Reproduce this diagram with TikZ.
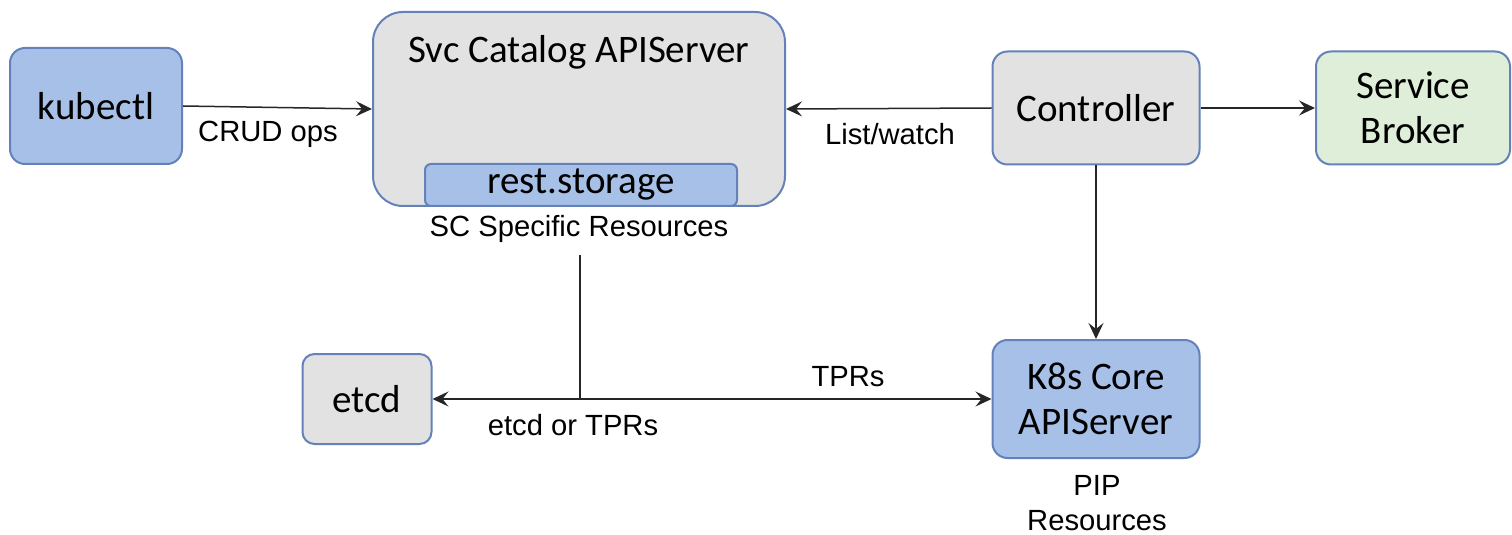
\documentclass[tikz,border=0pt]{standalone}
\usepackage{fontspec}
\setmainfont{Carlito}
\newfontfamily\labfont{Liberation Sans}
\usetikzlibrary{arrows.meta}
\definecolor{bluefill}{RGB}{167,192,231}
\definecolor{grayfill}{RGB}{226,226,226}
\definecolor{greenfill}{RGB}{222,238,216}
\definecolor{edgeblue}{RGB}{100,130,185}
\tikzset{
  box/.style={draw=edgeblue, line width=1pt, rounded corners=7.5pt, font=\fontsize{19.5}{22.5}\selectfont, align=center, inner sep=0pt},
  bluebox/.style={box, fill=bluefill},
  graybox/.style={box, fill=grayfill},
  greenbox/.style={box, fill=greenfill},
  lab/.style={font=\labfont\fontsize{14.6}{17.5}\selectfont, align=center, inner sep=0pt},
  arr/.style={-{Stealth[length=8pt,width=7.5pt,inset=3pt]}, line width=0.75pt, draw=black!85},
  conn/.style={line width=0.75pt, draw=black!85}
}
\begin{document}
\begin{tikzpicture}[x=0.5pt,y=-0.5pt]
\useasboundingbox (0,0) rectangle (1512,535);
\node[bluebox, minimum width=86pt, minimum height=58pt] (kubectl) at (96,106) {kubectl};
\node[graybox, rounded corners=15pt, minimum width=206pt, minimum height=97pt] (svc) at (579,109) {};
\node[font=\fontsize{19.5}{22.5}\selectfont, inner sep=0pt] (svctitle) at (579,52) {Svc Catalog APIServer};
\node[bluebox, rounded corners=3pt, minimum width=156pt, minimum height=21pt] (rest) at (581,185) {rest.storage};
\node[graybox, minimum width=103.5pt, minimum height=56.5pt] (ctrl) at (1096,108) {Controller};
\node[greenbox, minimum width=97pt, minimum height=56.5pt] (broker) at (1413,108) {Service\\Broker};
\node[graybox, rounded corners=6pt, minimum width=64.5pt, minimum height=45pt] (etcd) at (367,399) {etcd};
\node[bluebox, minimum width=103.5pt, minimum height=59pt] (k8s) at (1096,399) {K8s Core\\APIServer};

\node[lab] (sclab) at (579,229) {SC Specific Resources};
\node[lab] (crud) at (268,134) {CRUD ops};
\node[lab] (lw) at (890,134) {List/watch};
\node[lab] (tprs) at (848,377) {TPRs};
\node[lab] (etcdtpr) at (573,425) {etcd or TPRs};
\node[lab] (pip) at (1097,503) {PIP\\Resources};

\coordinate (sctop) at (580,255);
\coordinate (junc) at (580,399);

\draw[arr] (kubectl.east) -- (svc.west);
\draw[arr] (ctrl.west) -- (svc.east);
\draw[arr] (ctrl.east) -- (broker.west);
\draw[arr] (ctrl.south) -- (k8s.north);
\draw[conn] (sctop) -- (junc);
\draw[arr] (junc) -- (etcd.east);
\draw[arr] (junc) -- (k8s.west);
\end{tikzpicture}
\end{document}
